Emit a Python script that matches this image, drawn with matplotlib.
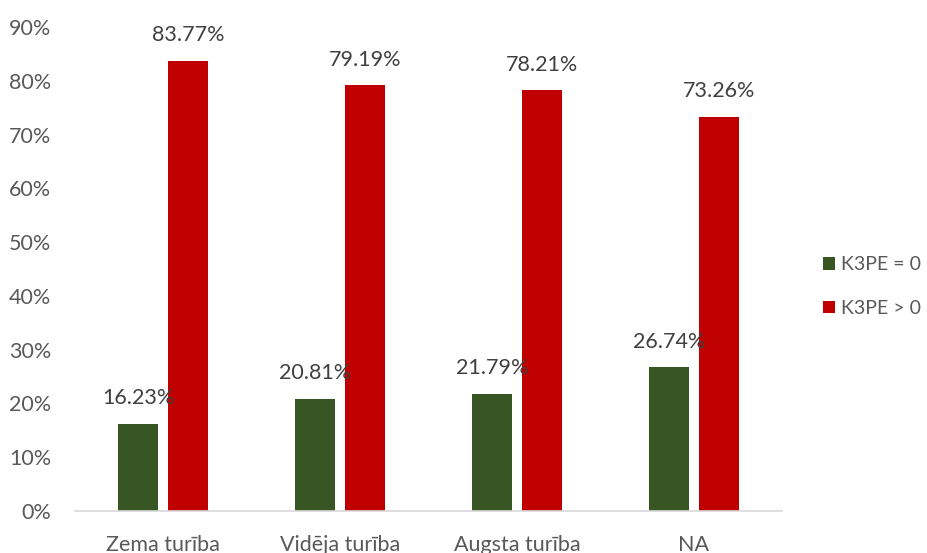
import matplotlib.pyplot as plt
import numpy as np

plt.rcParams['font.family'] = ['Lato', 'DejaVu Sans']

categories = ["Zema turība", "Vidēja turība", "Augsta turība", "NA"]
k3pe_zero = [16.23, 20.81, 21.79, 26.74]
k3pe_pos = [83.77, 79.19, 78.21, 73.26]
series_names = ["K3PE = 0", "K3PE > 0"]
colors = ["#375623", "#C00000"]

fig = plt.figure(figsize=(9.28, 5.53), dpi=100)
ax = fig.add_axes([0.0808, 0.076, 0.762, 0.875])

x = np.arange(len(categories))
w = 0.226
off = 0.141
for vals, shift, col, name in zip([k3pe_zero, k3pe_pos], [-off, off], colors, series_names):
    bars = ax.bar(x + shift, vals, width=w, color=col, label=name)
    for b, v in zip(bars, vals):
        ax.annotate(f"{v:.2f}%", (b.get_x() + b.get_width() / 2, v),
                    xytext=(0, 18.5), textcoords="offset points",
                    ha="center", va="center", fontsize=15.5, color="#404040")

ax.set_xlim(-0.5, 3.5)
ax.set_ylim(0, 90)
ax.set_yticks(range(0, 91, 10))
ax.set_yticklabels([f"{t}%" for t in range(0, 91, 10)])
ax.set_xticks(x)
ax.set_xticklabels(categories)
ax.tick_params(length=0, colors="#595959")
ax.tick_params(axis="x", pad=17, labelsize=15.5)
ax.tick_params(axis="y", pad=17, labelsize=15.5)
for s in ["top", "right", "left"]:
    ax.spines[s].set_visible(False)
ax.spines["bottom"].set_color("#d9d9d9")
ax.spines["bottom"].set_linewidth(1.2)

fig.legend(loc="center left", bbox_to_anchor=(0.887, 0.482), frameon=False,
           borderpad=0, borderaxespad=0,
           fontsize=14, handlelength=0.6, handleheight=0.6, handletextpad=0.3,
           labelspacing=1.35, labelcolor="#595959")

fig.savefig("out.png", dpi=100)
